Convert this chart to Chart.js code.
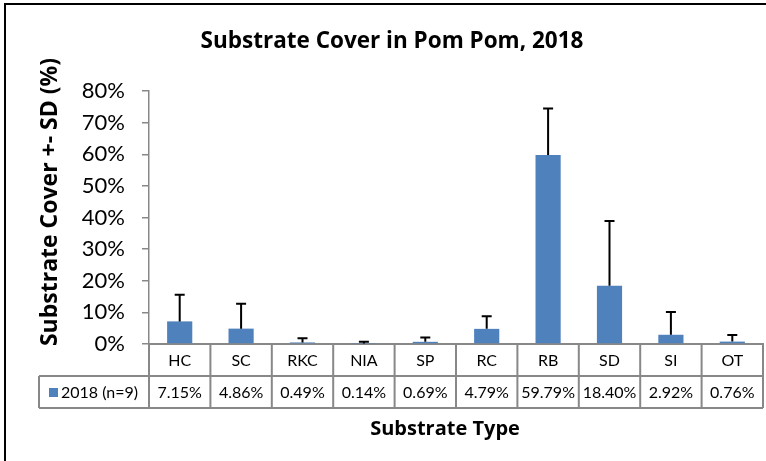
<!DOCTYPE html>
<html>
<head>
<meta charset="utf-8">
<script src="https://cdn.jsdelivr.net/npm/chart.js@4.4.0/dist/chart.umd.min.js"></script>
<style>
    html, body { margin: 0; padding: 0; background: #fff; }
    #wrap { width: 766px; height: 461px; }
</style>
</head>
<body>
<div id="wrap"><canvas id="substrateChart" width="766" height="461"></canvas></div>
<script>
// Substrate cover, mean and SD per type
const categories = ['HC', 'SC', 'RKC', 'NIA', 'SP', 'RC', 'RB', 'SD', 'SI', 'OT'];
const coverMeans = [7.15, 4.86, 0.49, 0.14, 0.69, 4.79, 59.79, 18.40, 2.92, 0.76];
const coverSD = [8.45, 7.9, 1.3, 0.6, 1.4, 3.95, 14.7, 20.5, 7.2, 2.1];
const seriesLabel = '2018 (n=9)';
const chartTitle = 'Substrate Cover in Pom Pom, 2018';
const yMax = 80;
const yStep = 10;

const FONT = 'Lato, "Open Sans", sans-serif';
const TITLE_FONT = '"Open Sans", Lato, sans-serif';
const BAR_BLUE = '#4F81BD';
const GRID_GRAY = '#888888';

// Error bars, outer frame, titles and the data table under the axis
const tablePlugin = {
    id: 'dataTable',
    beforeDraw(chart) {
        const ctx = chart.ctx;
        ctx.save();
        ctx.strokeStyle = '#000';
        ctx.lineWidth = 2;
        ctx.strokeRect(5, 4, 800, 500);
        ctx.restore();
    },
    afterDatasetsDraw(chart) {
        const ctx = chart.ctx;
        const y = chart.scales.y;
        const bars = chart.getDatasetMeta(0).data;
        ctx.save();
        ctx.strokeStyle = '#000';
        ctx.lineWidth = 2;
        bars.forEach((bar, i) => {
            const top = y.getPixelForValue(coverMeans[i] + coverSD[i]);
            ctx.beginPath();
            ctx.moveTo(bar.x, bar.y);
            ctx.lineTo(bar.x, top);
            ctx.moveTo(bar.x - 5, top);
            ctx.lineTo(bar.x + 5, top);
            ctx.stroke();
        });
        ctx.restore();
    },
    afterDraw(chart) {
        const ctx = chart.ctx;
        const x = chart.scales.x;
        const area = chart.chartArea;
        const half = (x.getPixelForValue(1) - x.getPixelForValue(0)) / 2;
        const rowH = 32;
        const r1 = area.bottom;
        const r2 = r1 + rowH;
        const r3 = r2 + rowH;
        const legendLeft = 39;

        ctx.save();
        ctx.strokeStyle = GRID_GRAY;
        ctx.lineWidth = 2;
        ctx.beginPath();
        ctx.moveTo(legendLeft, r2); ctx.lineTo(area.right, r2);
        ctx.moveTo(legendLeft, r3); ctx.lineTo(area.right, r3);
        ctx.moveTo(legendLeft, r2); ctx.lineTo(legendLeft, r3);
        for (let i = 0; i <= categories.length; i++) {
            const bx = i < categories.length ? x.getPixelForValue(i) - half : area.right;
            ctx.moveTo(bx, r1); ctx.lineTo(bx, r3);
        }
        ctx.stroke();

        ctx.fillStyle = '#000';
        ctx.font = '16px ' + FONT;
        ctx.textAlign = 'center';
        ctx.textBaseline = 'middle';
        categories.forEach((c, i) => {
            const cx = x.getPixelForValue(i);
            ctx.fillText(c, cx, (r1 + r2) / 2 + 1);
            ctx.fillText(coverMeans[i].toFixed(2) + '%', cx, (r2 + r3) / 2 + 1);
        });

        // legend key in the table
        ctx.fillStyle = BAR_BLUE;
        ctx.fillRect(49, (r2 + r3) / 2 - 4, 9, 9);
        ctx.fillStyle = '#000';
        ctx.textAlign = 'left';
        ctx.fillText(seriesLabel, 61, (r2 + r3) / 2 + 1);

        // chart and axis titles
        ctx.textAlign = 'center';
        ctx.font = 'bold 22.5px ' + TITLE_FONT;
        ctx.fillText(chartTitle, 392, 42);
        ctx.font = 'bold 20px ' + TITLE_FONT;
        ctx.fillText('Substrate Type', 445, 429);
        ctx.font = 'bold 23px ' + TITLE_FONT;
        ctx.translate(50, 202);
        ctx.rotate(-Math.PI / 2);
        ctx.fillText('Substrate Cover +- SD (%)', 0, 0);
        ctx.restore();
    }
};

const chart = new Chart(document.getElementById('substrateChart'), {
    type: 'bar',
    data: {
        labels: categories,
        datasets: [{
            label: seriesLabel,
            data: coverMeans,
            backgroundColor: BAR_BLUE,
            barPercentage: 0.41,
            categoryPercentage: 1.0
        }]
    },
    options: {
        responsive: false,
        animation: false,
        devicePixelRatio: 1,
        layout: { padding: { top: 91, left: 0, right: 3, bottom: 0 } },
        plugins: {
            legend: { display: false },
            tooltip: { enabled: false },
            title: { display: false }
        },
        scales: {
            x: {
                grid: { display: false },
                border: { display: true, color: GRID_GRAY, width: 2 },
                ticks: { display: false },
                afterFit(scale) { scale.height = 117; }
            },
            y: {
                min: 0,
                max: yMax,
                ticks: {
                    stepSize: yStep,
                    color: '#000',
                    padding: 17,
                    font: { family: FONT, size: 22 },
                    callback: v => v + '%'
                },
                grid: {
                    drawOnChartArea: false,
                    drawTicks: true,
                    tickLength: 7,
                    color: GRID_GRAY,
                    lineWidth: 1.5
                },
                border: { display: true, color: GRID_GRAY, width: 1.5 },
                afterFit(scale) { scale.width = 149; }
            }
        }
    },
    plugins: [tablePlugin]
});
</script>
</body>
</html>
